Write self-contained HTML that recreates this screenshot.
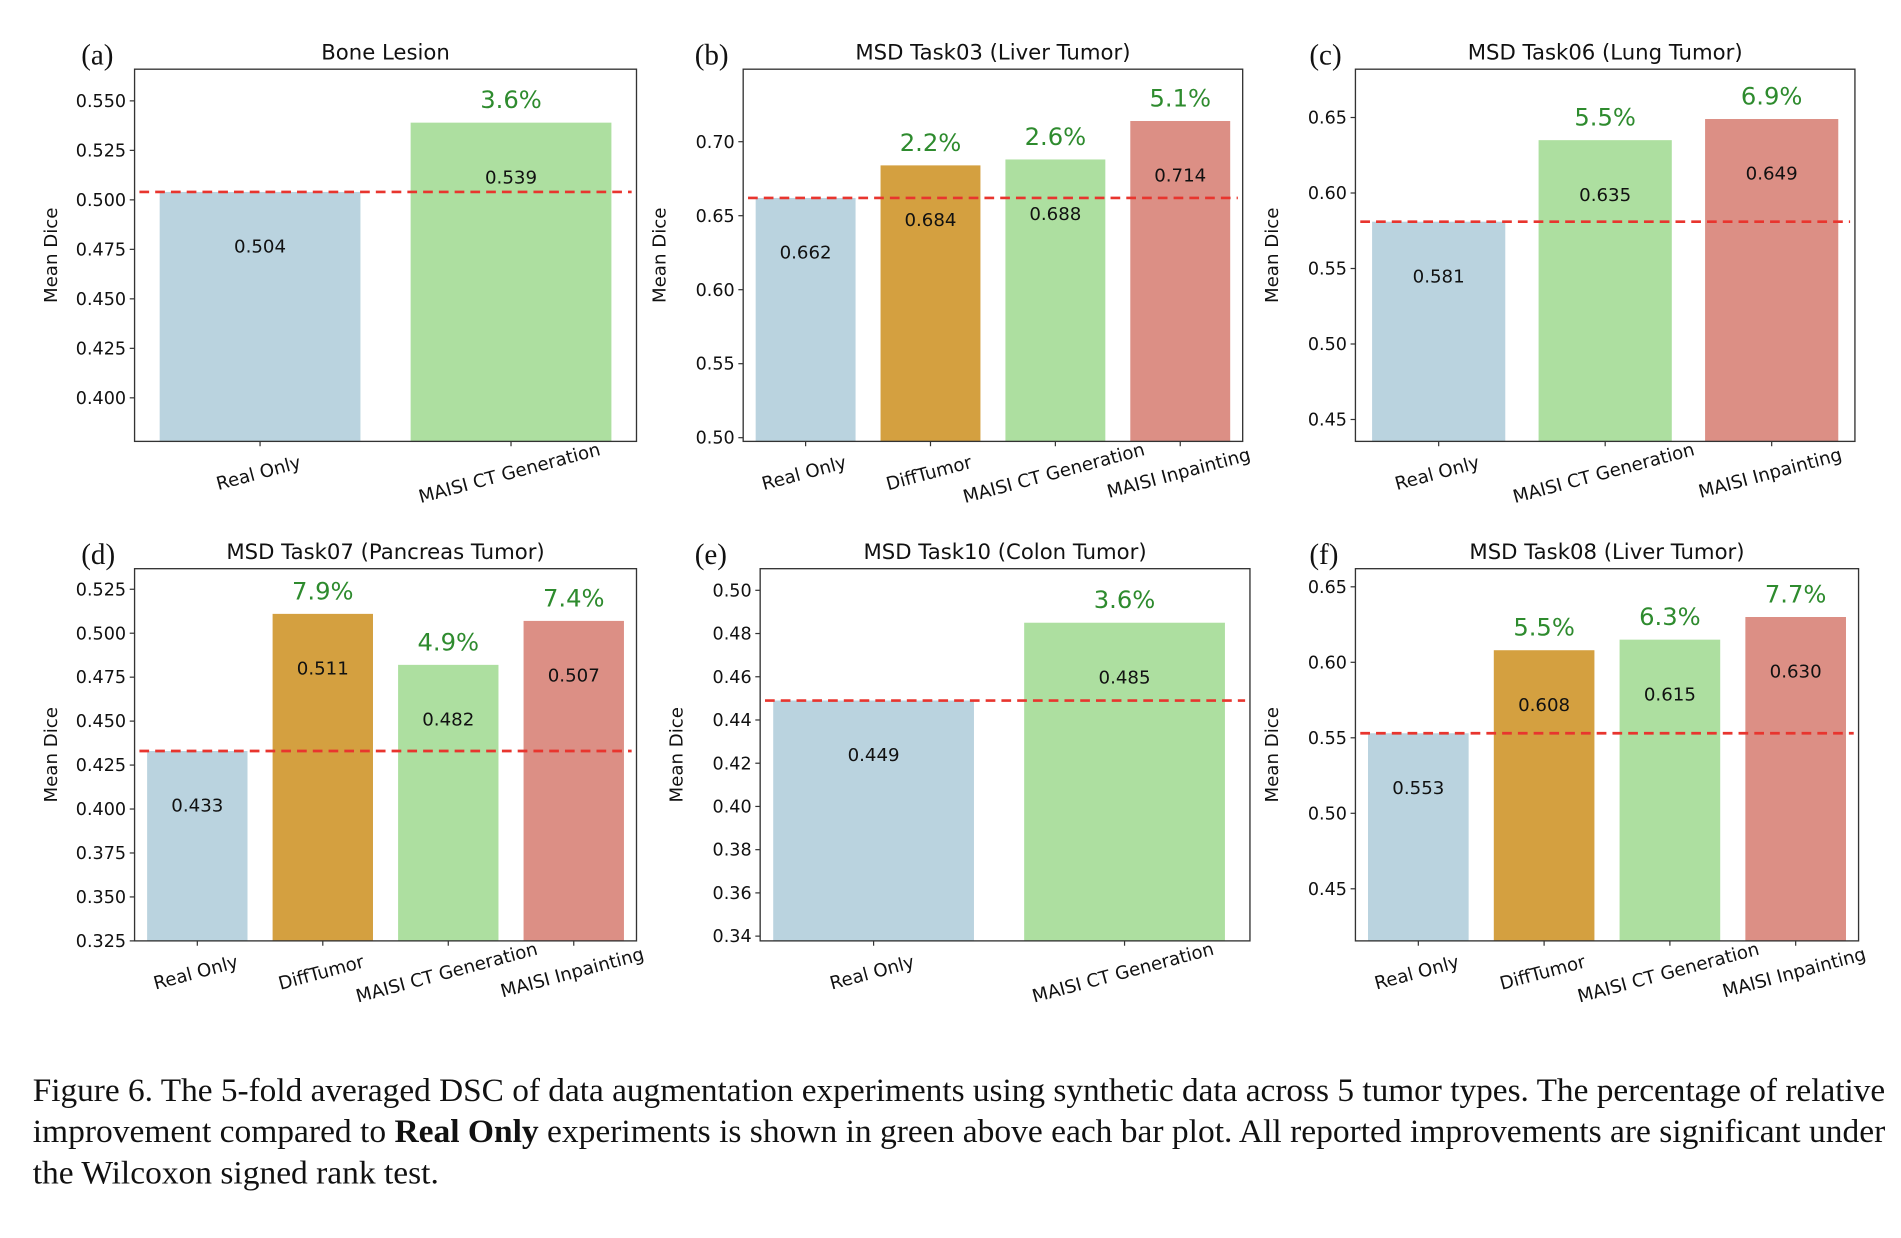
<!DOCTYPE html>
<html><head><meta charset="utf-8">
<style>
html,body{margin:0;padding:0;background:#fff;}
svg{display:block;}
.sans{font-family:"DejaVu Sans","Liberation Sans",sans-serif;}
.serif{font-family:"Liberation Serif",serif;}
</style></head>
<body>
<svg id="fig" width="1901" height="1238" viewBox="0 0 1568 1021" xmlns="http://www.w3.org/2000/svg">
<g id="charts"></g>
<g class="serif" font-size="27" fill="#111">
<text x="27" y="908" textLength="1528" lengthAdjust="spacingAndGlyphs">Figure 6. The 5-fold averaged DSC of data augmentation experiments using synthetic data across 5 tumor types. The percentage of relative</text>
<text x="27" y="942" textLength="1528" lengthAdjust="spacingAndGlyphs">improvement compared to <tspan font-weight="bold">Real Only</tspan> experiments is shown in green above each bar plot. All reported improvements are significant under</text>
<text x="27" y="976" textLength="335" lengthAdjust="spacingAndGlyphs">the Wilcoxon signed rank test.</text>
</g>
</svg>
<script>
const titles = ["Bone Lesion","MSD Task03 (Liver Tumor)","MSD Task06 (Lung Tumor)","MSD Task07 (Pancreas Tumor)","MSD Task10 (Colon Tumor)","MSD Task08 (Liver Tumor)"];
const panelLetters = ["(a)","(b)","(c)","(d)","(e)","(f)"];
const categoriesA = ["Real Only","MAISI CT Generation"];
const categoriesB = ["Real Only","DiffTumor","MAISI CT Generation","MAISI Inpainting"];
const categoriesC = ["Real Only","MAISI CT Generation","MAISI Inpainting"];
const valuesA = [0.504,0.539];
const valuesB = [0.662,0.684,0.688,0.714];
const valuesC = [0.581,0.635,0.649];
const valuesD = [0.433,0.511,0.482,0.507];
const valuesE = [0.449,0.485];
const valuesF = [0.553,0.608,0.615,0.630];
const pctA = ["","3.6%"];
const pctB = ["","2.2%","2.6%","5.1%"];
const pctC = ["","5.5%","6.9%"];
const pctD = ["","7.9%","4.9%","7.4%"];
const pctE = ["","3.6%"];
const pctF = ["","5.5%","6.3%","7.7%"];
const ticksA = [0.400,0.425,0.450,0.475,0.500,0.525,0.550];
const ticksB = [0.50,0.55,0.60,0.65,0.70];
const ticksC = [0.45,0.50,0.55,0.60,0.65];
const ticksD = [0.325,0.350,0.375,0.400,0.425,0.450,0.475,0.500,0.525];
const ticksE = [0.34,0.36,0.38,0.40,0.42,0.44,0.46,0.48,0.50];
const ticksF = [0.45,0.50,0.55,0.60,0.65];
const ylimA = [0.378,0.566], ylimB = [0.4975,0.749], ylimC = [0.4355,0.682];
const ylimD = [0.325,0.5367], ylimE = [0.3378,0.510], ylimF = [0.4155,0.662];

const catColors = {"Real Only":"#bad3df","DiffTumor":"#d4a040","MAISI CT Generation":"#addfa0","MAISI Inpainting":"#dc8f85"};
const panels = [
 {box:[111,57,525,364],cats:categoriesA,vals:valuesA,pct:pctA,ticks:ticksA,ylim:ylimA,dec:3,xmin:-0.5,lx:67},
 {box:[613,57,1025,364],cats:categoriesB,vals:valuesB,pct:pctB,ticks:ticksB,ylim:ylimB,dec:2,xmin:-0.5,lx:573},
 {box:[1118,57,1530,364],cats:categoriesC,vals:valuesC,pct:pctC,ticks:ticksC,ylim:ylimC,dec:2,xmin:-0.5,lx:1080},
 {box:[111,469,525,776],cats:categoriesB,vals:valuesD,pct:pctD,ticks:ticksD,ylim:ylimD,dec:3,xmin:-0.5,lx:67},
 {box:[627,469,1031,776],cats:categoriesA,vals:valuesE,pct:pctE,ticks:ticksE,ylim:ylimE,dec:2,xmin:-0.452,lx:573},
 {box:[1118,469,1533,776],cats:categoriesB,vals:valuesF,pct:pctF,ticks:ticksF,ylim:ylimF,dec:2,xmin:-0.5,lx:1080}
];
const NS="http://www.w3.org/2000/svg";
function mk(tag,attrs,parent,text){const e=document.createElementNS(NS,tag);for(const k in attrs)e.setAttribute(k,attrs[k]);if(text!==undefined)e.textContent=text;parent.appendChild(e);return e;}
const root=document.getElementById('charts');
panels.forEach((p,i)=>{
  const [x0,y0,x1,y1]=p.box;
  const g=mk('g',{class:'sans'},root);
  
  
  const n=p.cats.length;
  const xmax = (p.xmin===-0.5)? n-0.5 : p.xmin + (x1-x0)/207;
  const unit=(x1-x0)/(xmax-p.xmin);
  const xs=v=>x0+(v-p.xmin)*unit;
  const ys=v=>y1-(v-p.ylim[0])/(p.ylim[1]-p.ylim[0])*(y1-y0);
  p.vals.forEach((v,j)=>{
    const r=mk('rect',{x:xs(j)-0.4*unit,y:ys(v),width:0.8*unit,height:y1-ys(v),fill:catColors[p.cats[j]]},g);
    
    
    const t=mk('text',{x:xs(j),y:ys(v)+50,'text-anchor':'middle','font-size':15,fill:'#111'},g,v.toFixed(3));
    
    
    if(p.pct[j]){
      const q=mk('text',{x:xs(j),y:ys(v)-12,'text-anchor':'middle','font-size':20,fill:'#2e8b2e'},g,p.pct[j]);
      
      
    }
    const tk=mk('line',{x1:xs(j),x2:xs(j),y1:y1,y2:y1+4,stroke:'#333','stroke-width':1},g);
    
    
    const tx=xs(j), ty=y1+31;
    const xl=mk('text',{x:tx,y:ty,'text-anchor':'middle','font-size':15,fill:'#111',transform:`rotate(-15 ${tx} ${ty})`},g,p.cats[j]);
    
    
  });
  const base=ys(p.vals[0]);
  const dl=mk('line',{x1:x0+4,x2:x1-4,y1:base,y2:base,stroke:'#e8352e','stroke-width':2.2,'stroke-dasharray':'8,5'},g);
  
  
  const fr=mk('rect',{x:x0,y:y0,width:x1-x0,height:y1-y0,fill:'none',stroke:'#333','stroke-width':1.1},g);
  
  
  p.ticks.forEach(t=>{
    const yy=ys(t);
    const l=mk('line',{x1:x0-4,x2:x0,y1:yy,y2:yy,stroke:'#333','stroke-width':1},g);
    
    
    const tl=mk('text',{x:x0-7,y:yy+5,'text-anchor':'end','font-size':14.5,fill:'#111'},g,t.toFixed(p.dec));
    
    
  });
  const yc=(y0+y1)/2, yx=x0-64;
  const yl=mk('text',{x:yx,y:yc,'text-anchor':'middle','font-size':15,fill:'#111',transform:`rotate(-90 ${yx} ${yc})`},g,'Mean Dice');
  
  
  const tt=mk('text',{x:(x0+x1)/2,y:y0-8,'text-anchor':'middle','font-size':17.5,fill:'#111'},g,titles[i]);
  
  
  const pl=mk('text',{x:p.lx,y:y0-4,'font-size':24,fill:'#111','font-family':'Liberation Serif, serif'},g,panelLetters[i]);
  
  
});
</script>
</body></html>
